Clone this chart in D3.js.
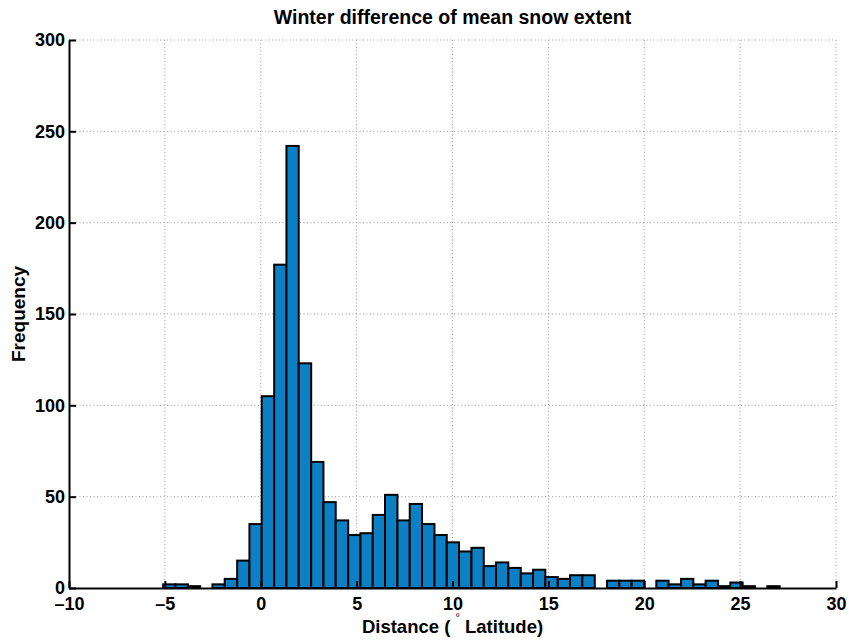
<!DOCTYPE html>
<html>
<head>
<meta charset="utf-8">
<script src="https://cdn.jsdelivr.net/npm/d3@7"></script>
<style>
  body { margin: 0; background: #fff; }
  text { font-family: "Liberation Sans", Arial, sans-serif; font-weight: bold; }
</style>
</head>
<body>
<div id="chart"></div>
<script>
// histogram bin edges (degrees latitude) and counts
const binEdges = [-5.09, -4.45, -3.80, -3.16, -2.52, -1.88, -1.23, -0.59, 0.05, 0.70,
  1.34, 1.98, 2.63, 3.27, 3.91, 4.56, 5.20, 5.84, 6.48, 7.13,
  7.77, 8.41, 9.06, 9.70, 10.34, 10.99, 11.63, 12.27, 12.91, 13.56,
  14.20, 14.84, 15.49, 16.13, 16.77, 17.42, 18.06, 18.70, 19.34, 19.99,
  20.63, 21.27, 21.92, 22.56, 23.20, 23.85, 24.49, 25.13, 25.77, 26.42, 27.06];
const counts = [2, 2, 1, 0, 2, 5, 15, 35, 105, 177,
  242, 123, 69, 47, 37, 29, 30, 40, 51, 37,
  46, 35, 29, 25, 20, 22, 12, 14, 11, 8,
  10, 6, 5, 7, 7, 0, 4, 4, 4, 0,
  4, 2, 5, 2, 4, 1, 3, 1, 0, 1];
const xTicks = [-10, -5, 0, 5, 10, 15, 20, 25, 30];
const yTicks = [0, 50, 100, 150, 200, 250, 300];

const titleText = "Winter difference of mean snow extent";
const yLabelText = "Frequency";

let bins = counts.map((c, i) => ({ x0: binEdges[i], x1: binEdges[i + 1], n: c }));

// set the dimensions and margins of the graph
let margin = {top: 40, right: 13, bottom: 52, left: 69},
    width = 849 - margin.left - margin.right,
    height = 640 - margin.top - margin.bottom;

let svg = d3.select("#chart")
  .append("svg")
    .attr("width", width + margin.left + margin.right)
    .attr("height", height + margin.top + margin.bottom)
  .append("g")
    .attr("transform", "translate(" + margin.left + "," + margin.top + ")");

let x = d3.scaleLinear().domain([-10, 30]).range([0, width]);
let y = d3.scaleLinear().domain([0, 300]).range([height, 0]);

// dotted grid
svg.append("g").selectAll("line")
  .data(xTicks.slice(1))
  .enter().append("line")
    .attr("x1", d => x(d)).attr("x2", d => x(d))
    .attr("y1", 0).attr("y2", height)
    .attr("stroke", "#9a9a9a").attr("stroke-width", 1)
    .attr("stroke-dasharray", "1,2.5");
svg.append("g").selectAll("line")
  .data(yTicks.slice(1))
  .enter().append("line")
    .attr("x1", 0).attr("x2", width)
    .attr("y1", d => y(d)).attr("y2", d => y(d))
    .attr("stroke", "#9a9a9a").attr("stroke-width", 1)
    .attr("stroke-dasharray", "1,2.5");

// bars
svg.append("g").selectAll("rect")
  .data(bins)
  .enter().append("rect")
    .attr("x", d => x(d.x0))
    .attr("y", d => y(d.n))
    .attr("width", d => x(d.x1) - x(d.x0))
    .attr("height", d => height - y(d.n))
    .attr("fill", "#0c80c4")
    .attr("stroke", "#000")
    .attr("stroke-width", 2);

let fmt = d => d < 0 ? "\u2013" + Math.abs(d) : String(d);

// axes, ticks pointing inward
let xAxis = svg.append("g")
    .attr("transform", "translate(0," + height + ")")
    .call(d3.axisBottom(x).tickValues(xTicks).tickFormat(fmt)
      .tickSizeInner(-7).tickSizeOuter(0).tickPadding(9));
let yAxis = svg.append("g")
    .call(d3.axisLeft(y).tickValues(yTicks).tickFormat(fmt)
      .tickSizeInner(-7).tickSizeOuter(0).tickPadding(4));

[xAxis, yAxis].forEach(a => {
  a.select(".domain").attr("stroke", "#000").attr("stroke-width", 2);
  a.selectAll(".tick line").attr("stroke", "#000").attr("stroke-width", 2);
  a.selectAll(".tick text")
    .attr("fill", "#000")
    .style("font-size", "18px")
    .style("font-family", "'Liberation Sans', Arial, sans-serif")
    .style("font-weight", "bold");
});

// title
svg.append("text")
  .attr("x", width / 2).attr("y", -16)
  .attr("text-anchor", "middle")
  .style("font-size", "19.5px")
  .text(titleText);

// y label
svg.append("text")
  .attr("transform", "translate(" + (25 - margin.left) + "," + (height / 2) + ") rotate(-90)")
  .attr("text-anchor", "middle")
  .style("font-size", "19px")
  .text(yLabelText);

// x label with raised degree sign
let xl = svg.append("text")
  .attr("x", width / 2).attr("y", height + 45)
  .attr("text-anchor", "middle")
  .style("font-size", "18.5px");
xl.append("tspan").text("Distance ( ");
xl.append("tspan").attr("dy", -12).style("font-size", "11px").style("font-weight", "normal").text("\u00b0");
xl.append("tspan").attr("dy", 12).text(" Latitude)");
</script>
</body>
</html>
